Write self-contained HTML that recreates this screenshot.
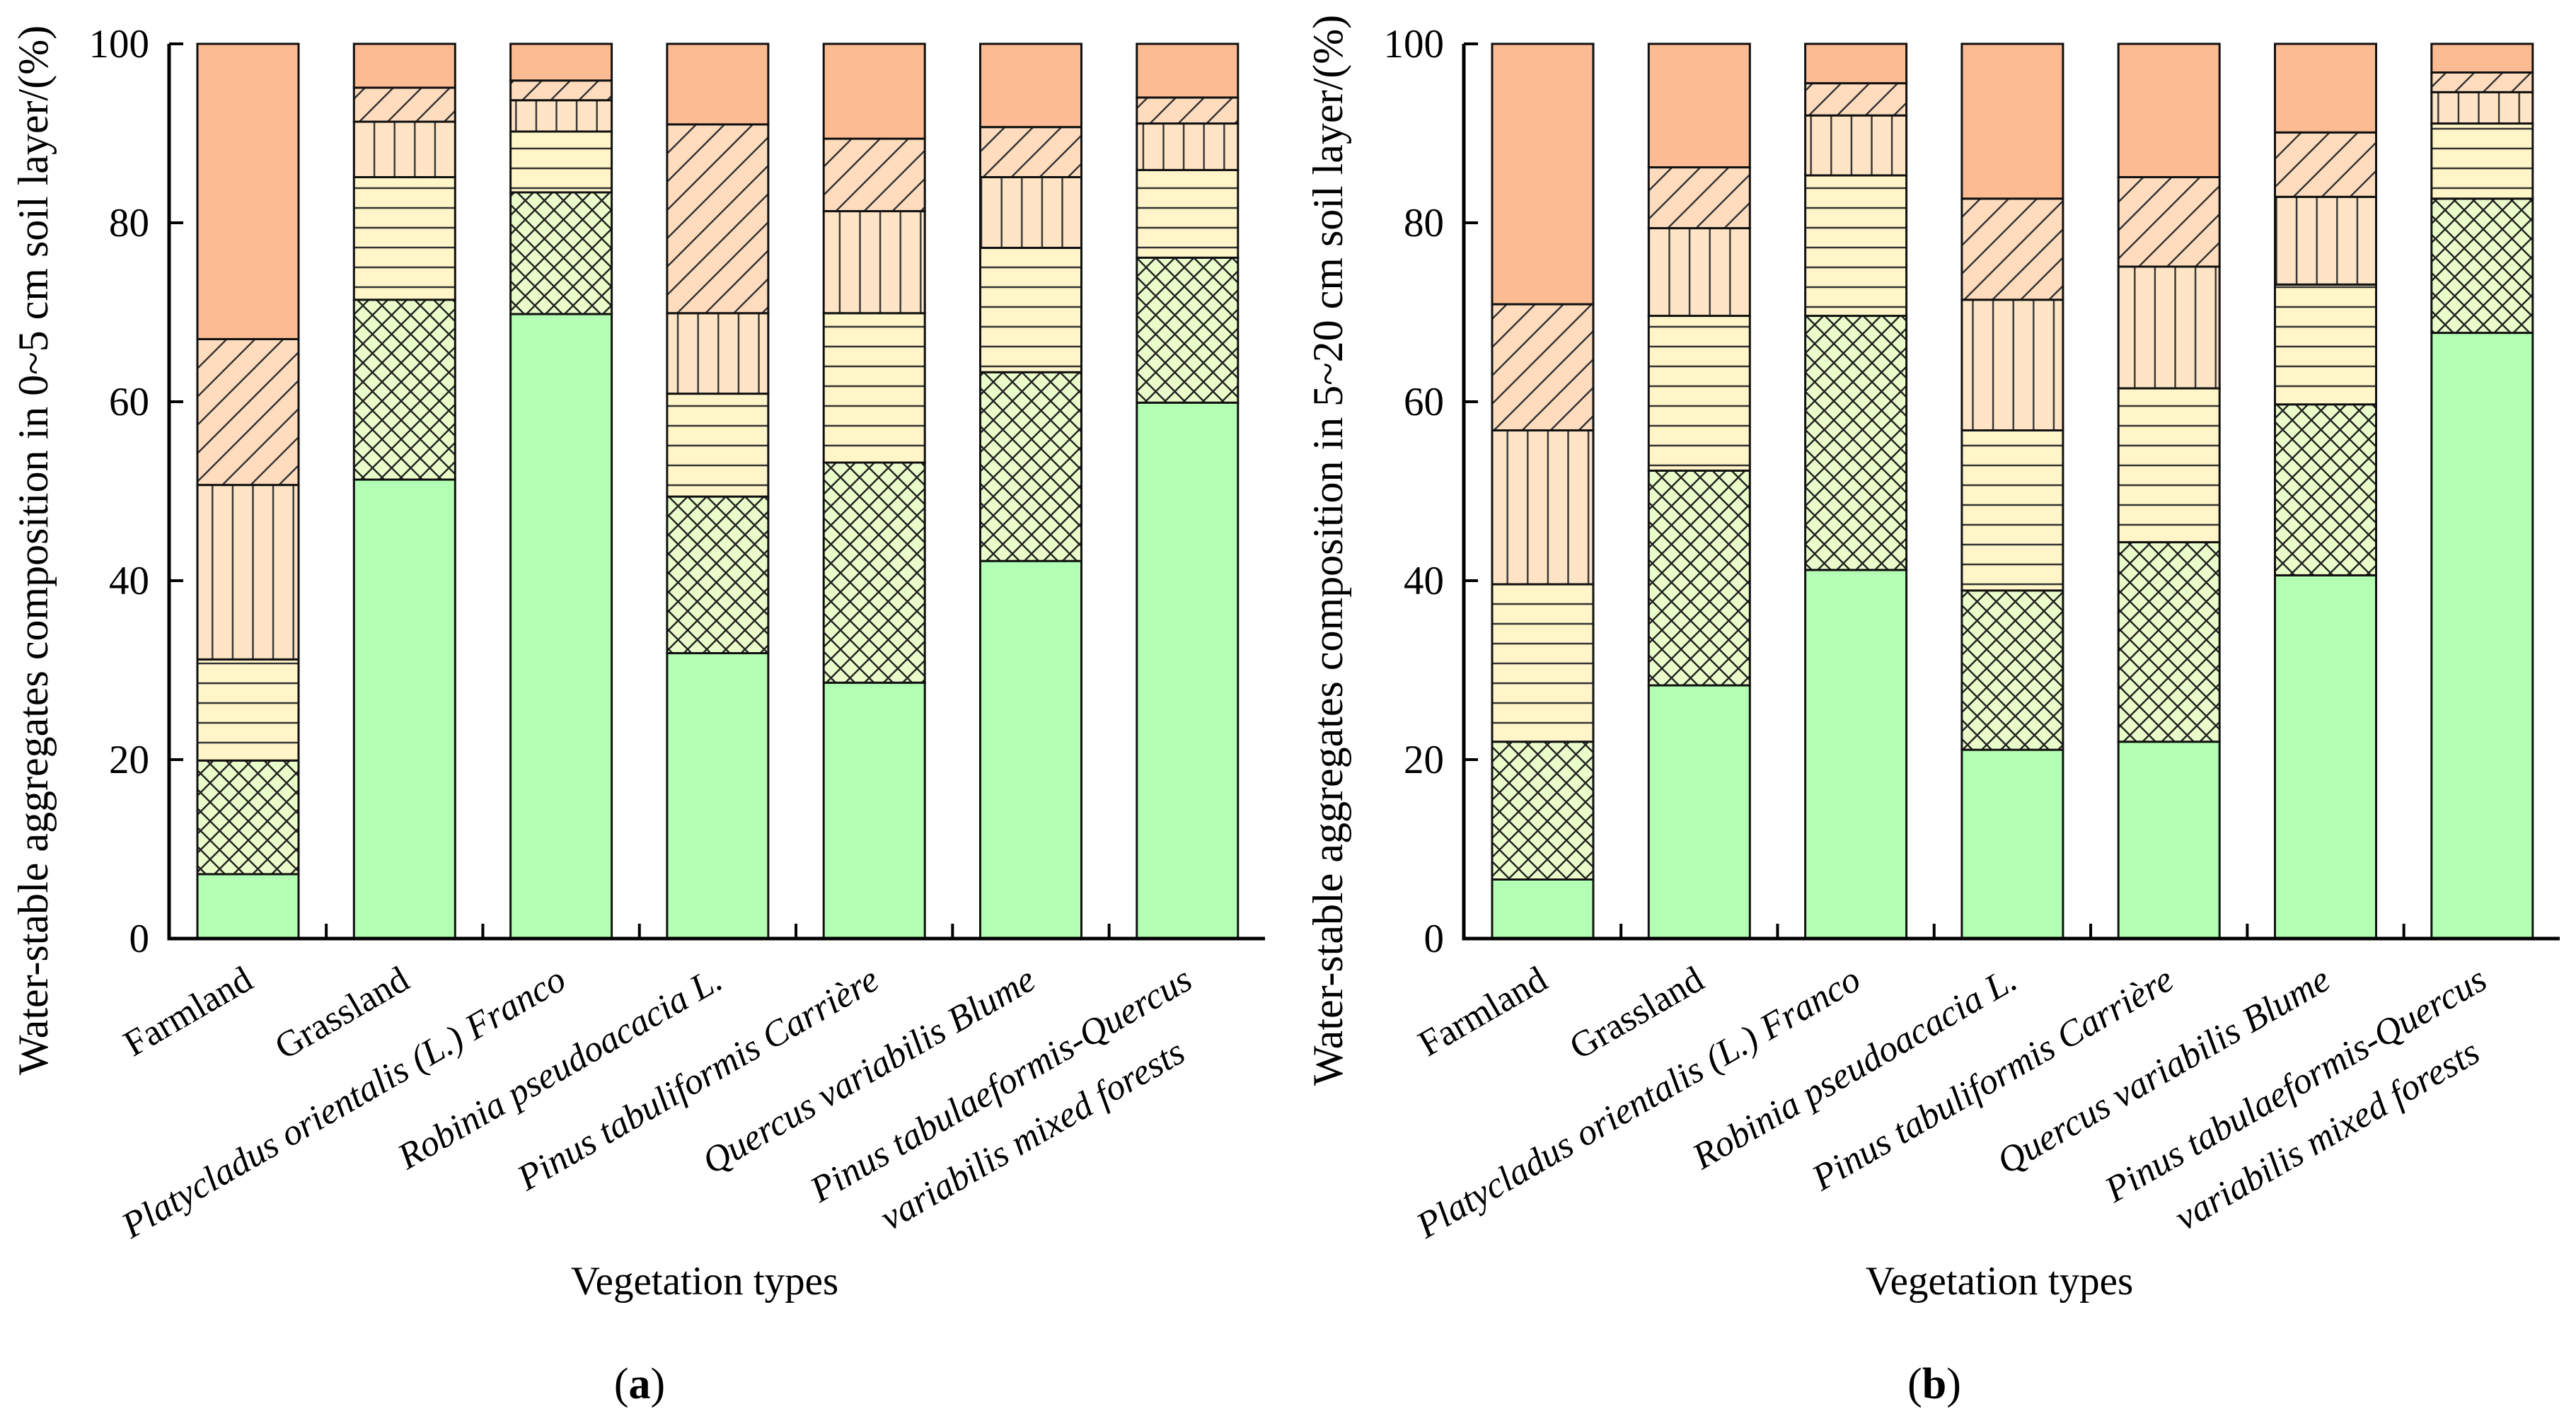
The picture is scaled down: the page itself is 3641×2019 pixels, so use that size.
<!DOCTYPE html>
<html><head><meta charset="utf-8">
<style>html,body{margin:0;padding:0;background:#fff;}svg{display:block;}svg text{font-family:"Liberation Serif",serif;}</style></head>
<body>
<svg id="fig" width="3641" height="2019" viewBox="0 0 3641 2019" xmlns="http://www.w3.org/2000/svg">
<defs>
<pattern id="pCross" patternUnits="userSpaceOnUse" width="27" height="27"><rect width="27" height="27" fill="#e9fcc9"/><path d="M0,0L27,27M27,0L0,27" stroke="#222" stroke-width="2.4"/></pattern>
<pattern id="pHoriz" patternUnits="userSpaceOnUse" width="28" height="28"><rect width="28" height="28" fill="#fff5c8"/><path d="M0,14H28" stroke="#333" stroke-width="2.4"/></pattern>
<pattern id="pVert" patternUnits="userSpaceOnUse" width="28.6" height="28"><rect width="28.6" height="28" fill="#ffe5c6"/><path d="M14.3,0V28" stroke="#333" stroke-width="2.4"/></pattern>
<pattern id="pDiag" patternUnits="userSpaceOnUse" width="40" height="40"><rect width="40" height="40" fill="#ffdcbd"/><path d="M0,40L40,0M-10,10L10,-10M30,50L50,30" stroke="#333" stroke-width="2.4"/></pattern>
</defs>
<g id="panels"></g>
</svg>
<script>
const categories = ["Farmland","Grassland","Platycladus orientalis (L.) Franco","Robinia pseudoacacia L.","Pinus tabuliformis Carrière","Quercus variabilis Blume","Pinus tabulaeformis-Quercus|variabilis mixed forests"];
const yTicks = [0,20,40,60,80,100];
// panel (a) 0~5 cm layer values (%) bottom to top
const a1 = [7.2,51.3,69.8,31.9,28.6,42.2,59.9];
const a2 = [12.7,20.1,13.6,17.5,24.6,21.1,16.2];
const a3 = [11.3,13.7,6.8,11.5,16.7,13.9,9.8];
const a4 = [19.5,6.2,3.5,9.0,11.4,7.9,5.2];
const a5 = [16.3,3.8,2.2,21.1,8.1,5.6,2.9];
const a6 = [33.0,4.9,4.1,9.0,10.6,9.3,6.0];
// panel (b) 5~20 cm layer values (%)
const b1 = [6.6,28.3,41.2,21.1,22.0,40.6,67.7];
const b2 = [15.4,24.0,28.4,17.8,22.3,19.1,15.0];
const b3 = [17.6,17.3,15.7,17.9,17.2,13.4,8.4];
const b4 = [17.2,9.8,6.7,14.6,13.6,9.8,3.5];
const b5 = [14.1,6.8,3.6,11.3,10.0,7.2,2.2];
const b6 = [29.1,13.8,4.4,17.3,14.9,9.9,3.2];

const NS="http://www.w3.org/2000/svg";
const fills=["#b3ffb3","url(#pCross)","url(#pHoriz)","url(#pVert)","url(#pDiag)","#fdbb93"];
const root=document.getElementById('panels');
function mk(tag,attrs,parent){const e=document.createElementNS(NS,tag);for(const k in attrs)e.setAttribute(k,attrs[k]);parent.appendChild(e);return e;}

function panel(ox,layers,title,letter){
  const g=mk('g',{},root);
  
  
  const x0=ox, xEnd=ox+1549, yB=1327, yT=62;
  const y=v=>yB-(v/100)*(yB-yT);
  const pitch=221.3, bw=143, first=ox+40;
  const bx=i=>first+i*pitch;
  categories.forEach((c,i)=>{
    let cum=0;
    layers.forEach((arr,l)=>{
      const v=arr[i];
      const r=mk('rect',{x:bx(i),y:y(cum+v),width:bw,height:y(cum)-y(cum+v),fill:fills[l],stroke:'#111','stroke-width':3},g);
      
      
      cum+=v;
    });
  });
  const ax=mk('path',{d:`M${x0},${yT}V${yB}H${xEnd}`,fill:'none',stroke:'#000','stroke-width':5},g);
  
  
  yTicks.forEach(t=>{
    mk('line',{x1:x0,x2:x0+20,y1:y(t),y2:y(t),stroke:'#000','stroke-width':4},g);
    const tx=mk('text',{x:x0-28,y:y(t)+19,'text-anchor':'end','font-size':57},g);
    tx.textContent=t;
    
    
  });
  for(let i=1;i<categories.length;i++){
    const xt=bx(i)-(pitch-bw)/2;
    mk('line',{x1:xt,x2:xt,y1:yB,y2:yB-21,stroke:'#000','stroke-width':4},g);
  }
  categories.forEach((c,i)=>{
    const cx=bx(i)+bw/2;
    const t=mk('text',{transform:`translate(${cx+10},${yB+68}) rotate(-30)`,'text-anchor':'end','font-size':52,'font-style':i<2?'normal':'italic'},g);
    
    
    const parts=c.split('|');
    parts.forEach((p,k)=>{const s=mk('tspan',{x:k?-60:0,y:k?84:0},t);s.textContent=p;});
  });
  const yt=mk('text',{transform:`translate(${ox-172},${778}) rotate(-90)`,'text-anchor':'middle','font-size':60},g);
  yt.textContent=title;
  
  
  const xt=mk('text',{x:ox+757,y:1830,'text-anchor':'middle','font-size':57},g);
  xt.textContent='Vegetation types';
  
  
  const lab=mk('text',{x:ox+665,y:1977,'text-anchor':'middle','font-size':62},g);
  
  
  lab.innerHTML='(<tspan font-weight="bold">'+letter+'</tspan>)';
}
panel(239,[a1,a2,a3,a4,a5,a6],'Water-stable aggregates composition in 0~5 cm soil layer/(%)','a');
panel(2069,[b1,b2,b3,b4,b5,b6],'Water-stable aggregates composition in 5~20 cm soil layer/(%)','b');
</script>
</body></html>
